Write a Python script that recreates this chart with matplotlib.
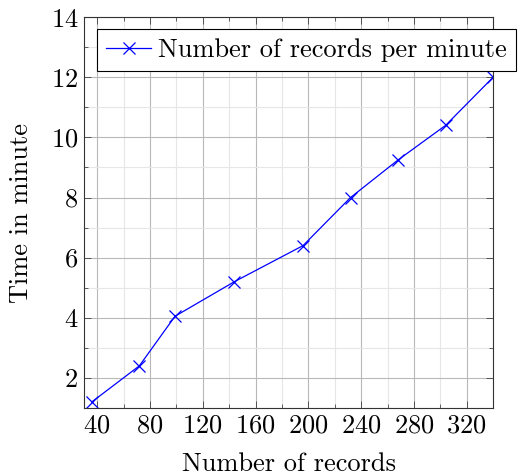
import matplotlib.pyplot as plt
from matplotlib.ticker import MultipleLocator

records = [36, 72, 99, 144, 196, 232, 268, 304, 340]
minutes = [1.2, 2.4, 4.05, 5.2, 6.4, 8.0, 9.25, 10.4, 12.0]
serie = 'Number of records per minute'

plt.rcParams['font.family'] = 'cmr10'
plt.rcParams['mathtext.fontset'] = 'cm'
plt.rcParams['axes.formatter.use_mathtext'] = True

fig = plt.figure(figsize=(5.18, 4.76), dpi=100)
ax = fig.add_axes([0.162, 0.143, 0.790, 0.821])

ax.plot(records, minutes, color='blue', linewidth=0.9, marker='x',
        markersize=9, markeredgewidth=0.9, label=serie)

ax.set_xlim(30, 340)
ax.set_ylim(1, 14)
ax.xaxis.set_major_locator(MultipleLocator(40))
ax.xaxis.set_minor_locator(MultipleLocator(20))
ax.yaxis.set_major_locator(MultipleLocator(2))
ax.yaxis.set_minor_locator(MultipleLocator(1))

ax.grid(which='major', color='#b8b8b8', linewidth=0.8)
ax.grid(which='minor', color='#e6e6e6', linewidth=0.8)
ax.set_axisbelow(True)

ax.tick_params(which='both', direction='in', top=True, right=True,
               labelsize=19, color='#444444', pad=4)
ax.tick_params(which='major', length=5, width=0.6)
ax.tick_params(which='minor', length=3, width=0.6)
for s in ax.spines.values():
    s.set_color('#333333')
    s.set_linewidth(0.8)

ax.set_xlabel('Number of records', fontsize=19, labelpad=11)
ax.set_ylabel('Time in minute', fontsize=19, labelpad=13)

leg = ax.legend(loc='upper left', bbox_to_anchor=(0.032, 0.97), fontsize=19,
                fancybox=False, framealpha=1, edgecolor='black',
                handlelength=1.7, borderaxespad=0, handletextpad=0.25,
                borderpad=0.35)
leg.get_frame().set_linewidth(0.8)

fig.savefig('out.png', dpi=100)
